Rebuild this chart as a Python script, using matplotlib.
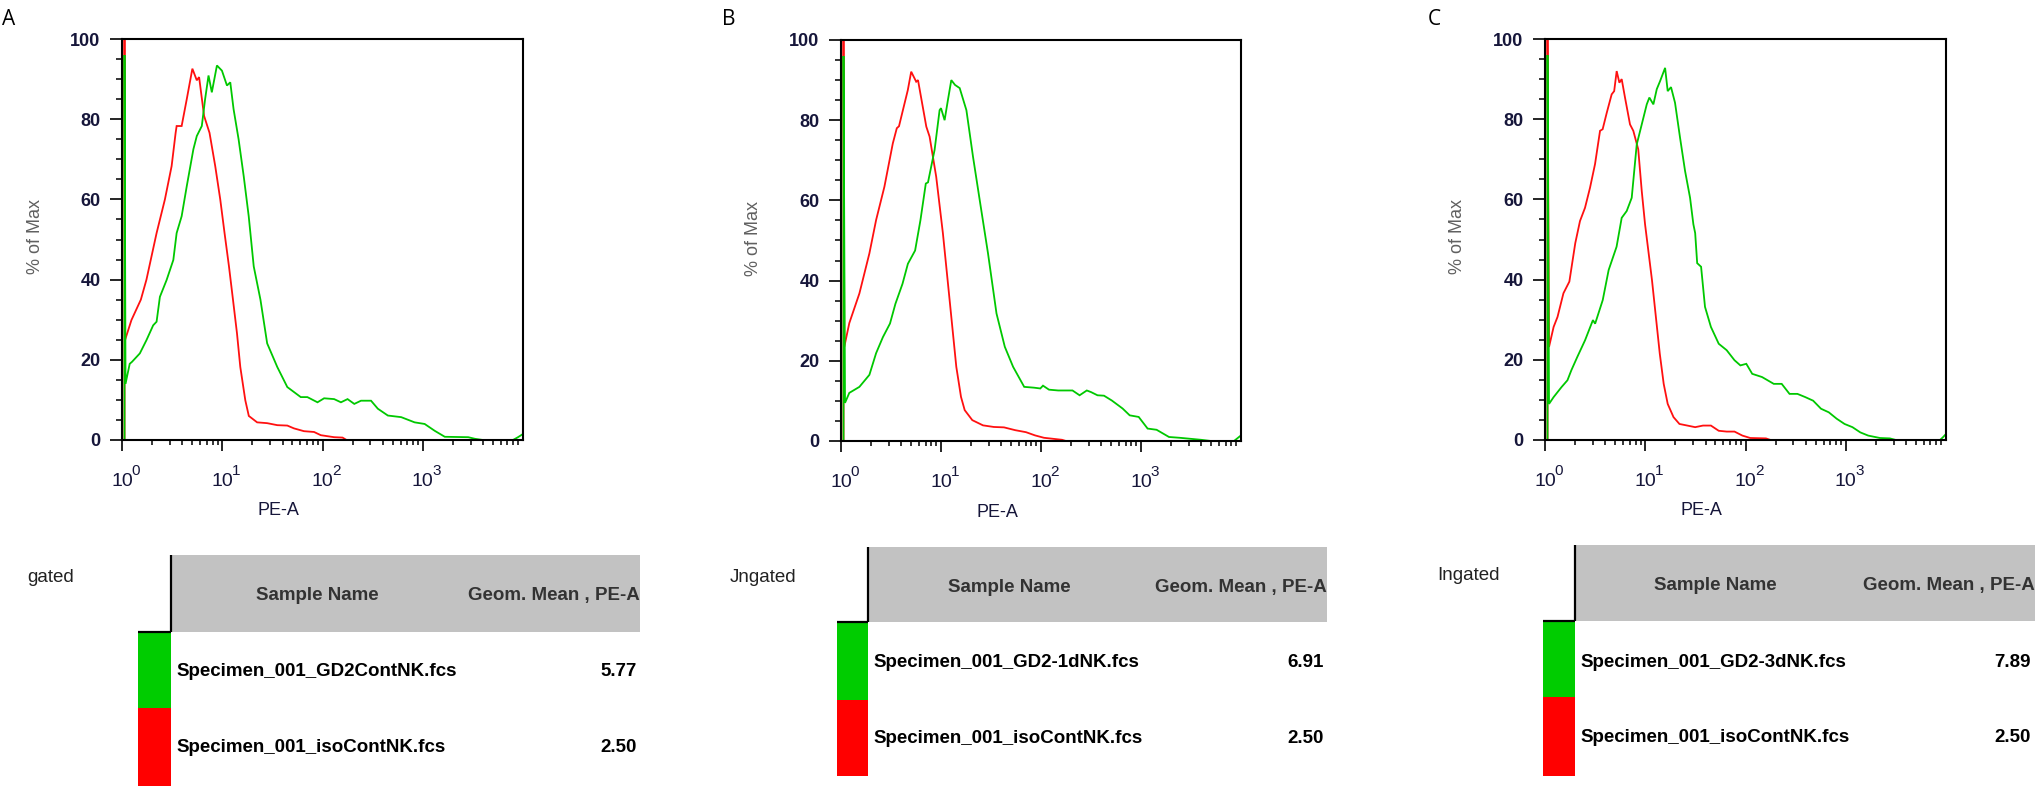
import numpy as np
import matplotlib
matplotlib.use('Agg')
import matplotlib.pyplot as plt
from matplotlib.patches import Rectangle
from matplotlib.ticker import FixedLocator, LogLocator, NullFormatter, MultipleLocator

W, H, DPI = 2035, 787, 100
plt.rcParams['font.family'] = ['Liberation Sans', 'DejaVu Sans']

# ---------------- data ----------------
panel_letters = ['A', 'B', 'C']
gate_labels = ['gated', 'Jngated', 'Ingated']
header_name = 'Sample Name'
header_stat = 'Geom. Mean , PE-A'
green_samples = ['Specimen_001_GD2ContNK.fcs', 'Specimen_001_GD2-1dNK.fcs', 'Specimen_001_GD2-3dNK.fcs']
red_samples = ['Specimen_001_isoContNK.fcs', 'Specimen_001_isoContNK.fcs', 'Specimen_001_isoContNK.fcs']
green_geomean = ['5.77', '6.91', '7.89']
red_geomean = ['2.50', '2.50', '2.50']
x_decades = [0, 1, 2, 3]
y_ticks = [0, 20, 40, 60, 80, 100]

# log10(PE-A) and % of Max
a_iso_log = [0.025, 0.025, 0.03, 0.094, 0.188, 0.244, 0.345, 0.428, 0.495, 0.535, 0.545, 0.595, 0.646,
             0.702, 0.746, 0.769, 0.819, 0.873, 0.93, 0.98, 1.023, 1.067, 1.107, 1.147, 1.18, 1.23,
             1.265, 1.348, 1.448, 1.549, 1.649, 1.715, 1.815, 1.916, 1.983, 2.116, 2.2, 2.24, 4.0]
a_iso_pct = [0, 100, 24.9, 29.9, 35.0, 40.0, 51.6, 60.0, 68.3, 76.6, 78.3, 78.3, 85.0,
             92.6, 89.7, 90.5, 80.8, 76.6, 68.3, 60.0, 51.6, 43.3, 35.0, 26.6, 18.2, 9.9,
             6.0, 4.4, 4.2, 3.7, 3.6, 2.9, 2.2, 2.0, 1.2, 0.7, 0.6, 0, 0]
a_gd2_log = [0.025, 0.025, 0.035, 0.077, 0.1, 0.178, 0.244, 0.311, 0.345, 0.378, 0.445, 0.512, 0.545,
             0.595, 0.646, 0.712, 0.746, 0.796, 0.829, 0.863, 0.896, 0.947, 0.997, 1.047, 1.08, 1.113,
             1.163, 1.214, 1.264, 1.314, 1.381, 1.448, 1.549, 1.649, 1.783, 1.849, 1.95, 2.016, 2.116,
             2.184, 2.25, 2.317, 2.384, 2.484, 2.552, 2.652, 2.785, 2.919, 3.019, 3.119, 3.22, 3.454,
             3.52, 3.6, 3.9, 3.95, 4.0]
a_gd2_pct = [0, 96, 14.0, 19.0, 19.5, 21.6, 24.9, 28.6, 29.5, 35.7, 39.9, 44.9, 51.6,
             55.8, 63.3, 72.5, 75.8, 78.3, 85.0, 90.9, 86.7, 93.4, 92.1, 88.4, 89.2, 82.5,
             75.0, 65.8, 55.8, 43.3, 35.0, 24.1, 18.2, 13.2, 10.7, 10.7, 9.4, 10.4, 10.2,
             9.4, 10.2, 9.0, 9.8, 9.8, 7.8, 6.1, 5.7, 4.4, 4.0, 2.3, 0.8, 0.7,
             0.3, 0, 0, 0.7, 1.5]

b_iso_log = [0.025, 0.025, 0.033, 0.083, 0.184, 0.284, 0.351, 0.434, 0.518, 0.558, 0.58, 0.619, 0.668,
             0.702, 0.752, 0.77, 0.853, 0.886, 0.952, 1.019, 1.086, 1.153, 1.2, 1.237, 1.313, 1.42,
             1.528, 1.63, 1.742, 1.85, 1.94, 2.03, 2.21, 2.25, 4.0]
b_iso_pct = [0, 100, 23.5, 29.4, 36.8, 46.8, 55.1, 63.4, 74.2, 78.0, 78.5, 82.5, 87.5,
             92.1, 89.6, 90.0, 78.4, 75.9, 65.9, 51.8, 35.2, 18.5, 11.0, 7.7, 5.2, 3.9,
             3.5, 3.4, 2.7, 2.2, 1.4, 0.8, 0.3, 0, 0]
b_gd2_log = [0.025, 0.025, 0.04, 0.083, 0.184, 0.284, 0.351, 0.419, 0.49, 0.544, 0.615, 0.669, 0.741,
             0.794, 0.848, 0.87, 0.936, 0.986, 1.0, 1.036, 1.069, 1.103, 1.14, 1.187, 1.254, 1.32,
             1.387, 1.47, 1.555, 1.638, 1.721, 1.832, 1.93, 1.993, 2.02, 2.08, 2.172, 2.315, 2.386,
             2.458, 2.5, 2.565, 2.63, 2.708, 2.816, 2.887, 2.977, 3.066, 3.156, 3.28, 3.388, 3.6,
             3.7, 3.93, 3.96, 4.0]
b_gd2_pct = [0, 96, 9.5, 12.0, 13.5, 16.5, 21.9, 25.9, 29.3, 34.2, 39.2, 44.2, 47.5,
             55.0, 64.2, 64.5, 72.6, 82.5, 83.0, 80.0, 85.0, 90.0, 88.8, 88.0, 82.5, 70.9,
             60.1, 46.8, 31.8, 23.5, 18.5, 13.5, 13.3, 13.1, 13.8, 12.8, 12.6, 12.6, 11.4,
             12.6, 12.2, 11.4, 11.3, 10.1, 8.1, 6.4, 6.0, 3.1, 2.8, 1.0, 0.8, 0.3,
             0, 0, 0.6, 1.4]

c_iso_log = [0.025, 0.025, 0.04, 0.086, 0.125, 0.184, 0.243, 0.302, 0.349, 0.399, 0.449, 0.499, 0.549,
             0.575, 0.616, 0.665, 0.69, 0.715, 0.742, 0.765, 0.798, 0.848, 0.881, 0.93, 0.965, 0.998,
             1.067, 1.106, 1.145, 1.184, 1.224, 1.282, 1.341, 1.42, 1.498, 1.576, 1.655, 1.733, 1.812,
             1.89, 1.969, 2.047, 2.204, 2.25, 4.0]
c_iso_pct = [0, 100, 23.2, 28.2, 30.7, 36.6, 39.5, 49.1, 54.6, 57.9, 62.9, 68.8, 77.1,
             77.5, 81.6, 86.2, 87.0, 92.0, 89.1, 90.0, 85.4, 78.7, 77.1, 72.5, 62.1, 53.8,
             39.9, 30.7, 21.5, 14.0, 9.0, 5.7, 4.0, 3.6, 3.2, 3.6, 3.6, 2.3, 2.1,
             2.1, 1.1, 0.5, 0.4, 0, 0]
c_gd2_log = [0.025, 0.025, 0.04, 0.086, 0.165, 0.224, 0.263, 0.322, 0.4, 0.478, 0.5, 0.576, 0.635,
             0.714, 0.765, 0.815, 0.865, 0.915, 0.965, 1.015, 1.041, 1.081, 1.115, 1.148, 1.198, 1.224,
             1.257, 1.297, 1.347, 1.397, 1.447, 1.48, 1.498, 1.518, 1.557, 1.596, 1.655, 1.733, 1.812,
             1.89, 1.949, 2.008, 2.067, 2.165, 2.282, 2.361, 2.439, 2.518, 2.596, 2.675, 2.753, 2.831,
             2.91, 2.988, 3.067, 3.145, 3.224, 3.341, 3.44, 3.5, 3.94, 3.97, 4.0]
c_gd2_pct = [0, 96, 9.0, 10.7, 13.2, 14.9, 17.4, 20.7, 24.9, 29.9, 29.0, 34.9, 42.4,
             48.2, 55.4, 57.1, 60.4, 73.7, 78.7, 83.7, 85.4, 83.7, 87.5, 89.5, 92.8, 87.0,
             88.0, 84.1, 75.4, 67.1, 60.4, 53.8, 51.6, 44.1, 43.2, 33.2, 28.2, 24.0, 22.4,
             19.9, 18.6, 19.0, 16.5, 15.7, 14.0, 14.0, 11.5, 11.5, 10.7, 9.8, 7.8, 6.9,
             5.3, 4.0, 3.2, 1.9, 1.1, 0.5, 0.4, 0, 0, 0.7, 1.5]

iso_series = [(a_iso_log, a_iso_pct), (b_iso_log, b_iso_pct), (c_iso_log, c_iso_pct)]
gd2_series = [(a_gd2_log, a_gd2_pct), (b_gd2_log, b_gd2_pct), (c_gd2_log, c_gd2_pct)]

# ---------------- layout (pixels) ----------------
axes_px = [(122, 39, 523, 440), (841, 40, 1241, 441), (1545, 39, 1946, 440)]
letter_px = [(2, 25), (722, 25), (1428, 25)]
xlabel_px = [(278, 515), (997, 517), (1701, 515)]
ylabel_px = [(35, 236), (753, 238), (1458, 236)]
# table: (gate_x, gate_base, line_x, swatch_x0, hdr_top, hdr_bot, row_mid, row_bot, hdr_right,
#         name_cx, hdr_base, row1_base, row2_base, val_right)
tables = [
    (27, 582, 171, 138, 555, 632, 708, 786, 640, 317, 600, 676, 752, 637),
    (729.5, 582, 868, 837, 547, 622, 700, 776, 1327, 1009, 592, 667, 743, 1324),
    (1437, 580, 1575, 1542.5, 545, 621, 697, 776, 2035, 1715, 590, 667, 742, 2031),
]

RED = '#ff1010'
GREEN = '#00c800'
TXT = '#16163a'

fig = plt.figure(figsize=(W / DPI, H / DPI), dpi=DPI)
fig.patch.set_facecolor('white')


def px_rect(x0, y0, x1, y1):
    return [x0 / W, 1 - y1 / H, (x1 - x0) / W, (y1 - y0) / H]


ov = fig.add_axes([0, 0, 1, 1], zorder=0)
ov.set_xlim(0, W)
ov.set_ylim(H, 0)
ov.axis('off')

PX2PT = 72.0 / DPI

for i in range(3):
    ax = fig.add_axes(px_rect(*axes_px[i]), zorder=1)
    ax.set_xscale('log')
    (rx, ry), (gx, gy) = iso_series[i], gd2_series[i]
    ax.plot(10 ** np.array(rx), ry, color=RED, lw=1.3, zorder=2, solid_joinstyle='miter')
    ax.plot(10 ** np.array(gx), gy, color=GREEN, lw=1.3, zorder=2.1, solid_joinstyle='miter')
    ax.set_xlim(1, 1e4)
    ax.set_ylim(0, 100)
    for s in ax.spines.values():
        s.set_linewidth(1.5)
        s.set_color('black')
        s.set_zorder(3)
    ax.xaxis.set_major_locator(FixedLocator([10 ** d for d in x_decades]))
    ax.xaxis.set_minor_locator(LogLocator(base=10, subs=np.arange(2, 10), numticks=20))
    ax.xaxis.set_major_formatter(NullFormatter())
    ax.xaxis.set_minor_formatter(NullFormatter())
    ax.yaxis.set_major_locator(FixedLocator(y_ticks))
    ax.yaxis.set_minor_locator(MultipleLocator(5))
    ax.tick_params(axis='x', which='major', direction='out', length=8, width=1.2, color='black')
    ax.tick_params(axis='x', which='minor', direction='out', length=3.5, width=1.1, color='black')
    ax.tick_params(axis='y', which='major', direction='out', length=8.5, width=1.2, color='black',
                   pad=7, labelsize=13, labelcolor=TXT)
    ax.tick_params(axis='y', which='minor', direction='out', length=4.2, width=1.1, color='black')
    ax.set_yticklabels([str(v) for v in y_ticks], fontweight='bold')
    for d in x_decades:
        ax.annotate('10', xy=(10 ** d, 0), xycoords=('data', 'axes fraction'),
                    xytext=(0, -46 * PX2PT), textcoords='offset points',
                    ha='center', va='baseline', fontsize=14, color=TXT, annotation_clip=False)
        ax.annotate(str(d), xy=(10 ** d, 0), xycoords=('data', 'axes fraction'),
                    xytext=(9.5 * PX2PT, -35 * PX2PT), textcoords='offset points',
                    ha='left', va='baseline', fontsize=11, color=TXT, annotation_clip=False)

    # axis titles, panel letters
    ov.text(xlabel_px[i][0], xlabel_px[i][1], 'PE-A', ha='center', va='baseline',
            fontsize=13, color=TXT)
    ov.text(ylabel_px[i][0], ylabel_px[i][1], '% of Max', ha='center', va='center',
            rotation=90, fontsize=13, color='#606060')
    ov.text(letter_px[i][0], letter_px[i][1], panel_letters[i], ha='left', va='baseline',
            fontsize=15, color='black', family=['Open Sans', 'DejaVu Sans'])

    # table
    (gx0, gbase, lx, sx0, ht, hb, rm, rb, hr, ncx, hbase, r1b, r2b, vr) = tables[i]
    ov.add_patch(Rectangle((lx, ht), hr - lx, hb - ht, facecolor='#c2c2c2', edgecolor='none'))
    ov.add_patch(Rectangle((sx0, hb), lx - sx0, rm - hb, facecolor='#00cc00', edgecolor='none'))
    ov.add_patch(Rectangle((sx0, rm), lx - sx0, rb - rm, facecolor='#ff0000', edgecolor='none'))
    ov.plot([lx, lx], [ht, hb], color='black', lw=1.6, solid_capstyle='butt')
    ov.plot([sx0, lx], [hb, hb], color='black', lw=1.6, solid_capstyle='butt')
    ov.text(gx0, gbase, gate_labels[i], ha='left', va='baseline', fontsize=13.5, color='#222222')
    ov.text(ncx, hbase, header_name, ha='center', va='baseline', fontsize=13.5,
            fontweight='bold', color='#333333')
    ov.text(hr, hbase, header_stat, ha='right', va='baseline', fontsize=13.5,
            fontweight='bold', color='#333333')
    ov.text(lx + 5, r1b, green_samples[i], ha='left', va='baseline', fontsize=13.5,
            fontweight='bold', color='black')
    ov.text(lx + 5, r2b, red_samples[i], ha='left', va='baseline', fontsize=13.5,
            fontweight='bold', color='black')
    ov.text(vr, r1b, green_geomean[i], ha='right', va='baseline', fontsize=13.5,
            fontweight='bold', color='black')
    ov.text(vr, r2b, red_geomean[i], ha='right', va='baseline', fontsize=13.5,
            fontweight='bold', color='black')

fig.savefig('out.png', dpi=DPI, facecolor='white')
